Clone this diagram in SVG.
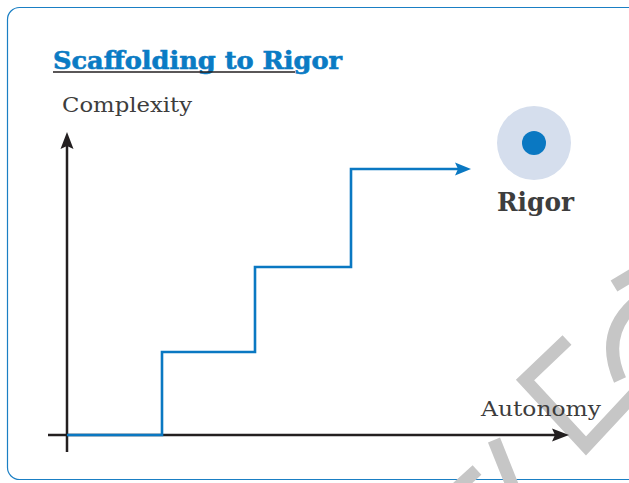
<svg xmlns="http://www.w3.org/2000/svg" width="629" height="483" viewBox="0 0 629 483">
  <style>
    .lbl { font-family: "DejaVu Serif", "Liberation Serif", serif; fill: #3d3d3d; }
    .axis { stroke: #231f20; stroke-width: 2.5; fill: none; }
    .step { stroke: #0a78c2; stroke-width: 2.6; fill: none; stroke-linejoin: miter; }
    .wm { stroke: #c6c6c6; stroke-width: 13; fill: none; stroke-linejoin: miter; }
  </style>
  <rect x="0" y="0" width="629" height="483" fill="#ffffff"/>
  <rect id="frame" x="7.5" y="7.5" width="700" height="472" rx="12" ry="12" fill="none" stroke="#1a7fc4" stroke-width="1.2"/>

  <g id="watermark">
    <polyline class="wm" points="567,340 525,380 586,446 640,388"/>
    <path class="wm" d="M 614,286 L 634,274"/>
    <path class="wm" d="M 634,304 Q 600,335 620,380"/>
    <path class="wm" d="M 494,440 L 514,490"/>
    <path class="wm" d="M 455,490 L 477,470"/>
  </g>

  <g id="title">
    <text x="53" y="69" font-family="'DejaVu Serif', 'Liberation Serif', serif" font-weight="bold" font-size="24" fill="#0a7bc4" stroke="#0a7bc4" stroke-width="0.6" textLength="289" lengthAdjust="spacingAndGlyphs">Scaffolding to Rigor</text>
    <line x1="53" y1="72" x2="295" y2="72" stroke="#231f20" stroke-width="1.6"/>
  </g>

  <g id="y-label">
    <text class="lbl" x="62" y="112" font-size="20" textLength="130" lengthAdjust="spacingAndGlyphs">Complexity</text>
  </g>
  <g id="x-label">
    <text class="lbl" x="481" y="416" font-size="20" textLength="120" lengthAdjust="spacingAndGlyphs">Autonomy</text>
  </g>

  <g id="rigor">
    <circle cx="534" cy="143" r="37" fill="#d5deed"/>
    <circle cx="534" cy="143" r="12" fill="#0a78c2"/>
    <text class="lbl" x="497" y="211" font-size="26" font-weight="bold" textLength="77" lengthAdjust="spacingAndGlyphs">Rigor</text>
  </g>

  <g id="connectors">
    <line class="axis" x1="67" y1="452" x2="67" y2="146"/>
    <polygon points="67,132 60.5,149 67,146 73.5,149" fill="#231f20"/>
    <line class="axis" x1="48" y1="435" x2="555" y2="435"/>
    <polygon points="569,435 552,428.5 555,435 552,441.5" fill="#231f20"/>
    <polyline class="step" points="67,435 162,435 162,352 255,352 255,267 351,267 351,169 458,169"/>
    <polygon points="471,169 455,162.5 458,169 455,175.5" fill="#0a78c2"/>
  </g>
</svg>
